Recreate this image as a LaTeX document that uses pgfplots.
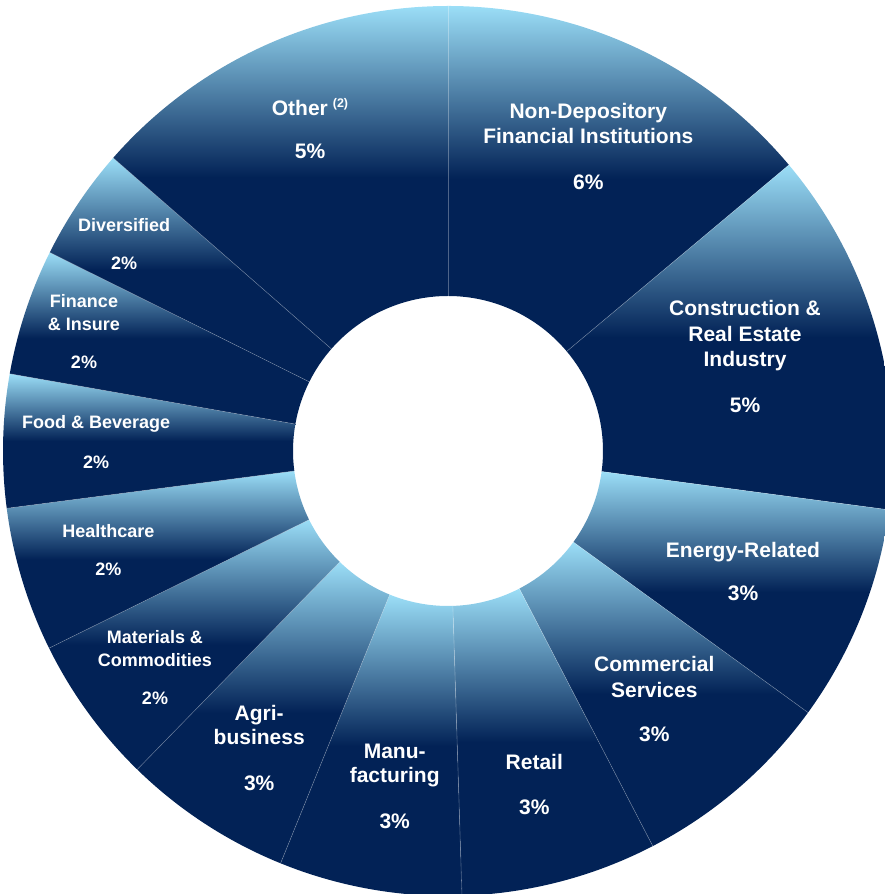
\documentclass[border=0pt]{standalone}
\usepackage{pgfplots}
\pgfplotsset{compat=1.18}
\usepackage{pgfplotstable}
\usepackage{fontspec}
\setmainfont{Liberation Sans}
\definecolor{segdark}{RGB}{2,34,86}
\definecolor{seglight}{RGB}{155,222,247}

% Angular span of each segment (degrees), clockwise from 12 o'clock:
% Non-Dep, Construction, Energy, Commercial, Retail, Manufacturing, Agri,
% Materials, Healthcare, Food, Finance, Diversified, Other
\pgfplotstableread{
span
50.0
47.6
28.4
26.6
25.6
23.9
22.2
19.4
18.9
17.4
16.5
14.7
48.8
}\spans

\newcommand{\Ro}{445}
\newcommand{\Ri}{155}

% build the drawing commands
\gdef\curang{90}
\gdef\segcmds{}
\gdef\sepcmds{}
\pgfplotstablegetrowsof{\spans}
\pgfmathtruncatemacro{\nrows}{\pgfplotsretval-1}
\foreach \i in {0,...,\nrows}{%
  \pgfplotstablegetelem{\i}{span}\of\spans
  \pgfmathsetmacro{\aone}{\curang}%
  \pgfmathsetmacro{\atwo}{\curang-\pgfplotsretval}%
  \pgfmathsetmacro{\xo}{\Ro*cos(\aone)}%
  \pgfmathsetmacro{\yo}{\Ro*sin(\aone)}%
  \pgfmathsetmacro{\xi}{\Ri*cos(\atwo)}%
  \pgfmathsetmacro{\yi}{\Ri*sin(\atwo)}%
  \pgfmathsetmacro{\xs}{\Ri*cos(\aone)}%
  \pgfmathsetmacro{\ys}{\Ri*sin(\aone)}%
  \xdef\segcmds{\unexpanded\expandafter{\segcmds}%
    \noexpand\shade[top color=seglight, bottom color=segdark, middle color=segdark]
    (axis cs:\xo,\yo) arc[start angle=\aone, end angle=\atwo, radius=\Ro pt]
    -- (axis cs:\xi,\yi) arc[start angle=\atwo, end angle=\aone, radius=\Ri pt] -- cycle;}%
  \xdef\sepcmds{\unexpanded\expandafter{\sepcmds}%
    \noexpand\draw[white, opacity=0.3, line width=0.6pt] (axis cs:\xs,\ys) -- (axis cs:\xo,\yo);}%
  \xdef\curang{\atwo}%
}

\newcommand{\lbig}[3]{\node[anchor=base, text=white, font=\bfseries\fontsize{21}{25}\selectfont, inner sep=0pt] at (axis cs:#1,#2) {#3};}
\newcommand{\lsml}[3]{\node[anchor=base, text=white, font=\bfseries\fontsize{18}{22}\selectfont, inner sep=0pt] at (axis cs:#1,#2) {#3};}

\begin{document}
\begin{tikzpicture}
\begin{axis}[
  scale only axis, width=885pt, height=894pt,
  xmin=-448, xmax=437, ymin=-443, ymax=451,
  hide axis, clip=true,
]
\segcmds
\sepcmds
% labels
\lbig{-138}{335}{Other\hspace{5pt}\raisebox{0.42em}{\fontsize{12.5}{14}\selectfont(2)}}
\lbig{-138}{292.7}{5\%}
\lbig{140.3}{332.7}{Non-Depository}
\lbig{140.3}{307.7}{Financial Institutions}
\lbig{140.3}{261.7}{6\%}
\lbig{297}{135.3}{Construction \&}
\lbig{297}{109.3}{Real Estate}
\lbig{297}{84.3}{Industry}
\lbig{297}{38.7}{5\%}
\lbig{295}{-106.3}{Energy-Related}
\lbig{295}{-149.7}{3\%}
\lbig{206.3}{-220.7}{Commercial}
\lbig{206.3}{-246.3}{Services}
\lbig{206.3}{-290.7}{3\%}
\lbig{86.3}{-319}{Retail}
\lbig{86.3}{-363.3}{3\%}
\lbig{-53.3}{-307.3}{Manu-}
\lbig{-53.3}{-331.7}{facturing}
\lbig{-53.3}{-377.3}{3\%}
\lbig{-188.8}{-269.7}{Agri-}
\lbig{-188.8}{-294}{business}
\lbig{-188.8}{-339.7}{3\%}
\lsml{-293}{-193}{Materials \&}
\lsml{-293}{-215.7}{Commodities}
\lsml{-293}{-254}{2\%}
\lsml{-339.7}{-86.3}{Healthcare}
\lsml{-339.7}{-124.7}{2\%}
\lsml{-351.8}{22.7}{Food \& Beverage}
\lsml{-351.8}{-17.3}{2\%}
\lsml{-364}{143.3}{Finance}
\lsml{-364}{120}{\& Insure}
\lsml{-364}{82}{2\%}
\lsml{-323.8}{219.3}{Diversified}
\lsml{-323.8}{181}{2\%}
\end{axis}
\pgfresetboundingbox
\path (current axis.south west) rectangle (current axis.north east);
\end{tikzpicture}
\end{document}
